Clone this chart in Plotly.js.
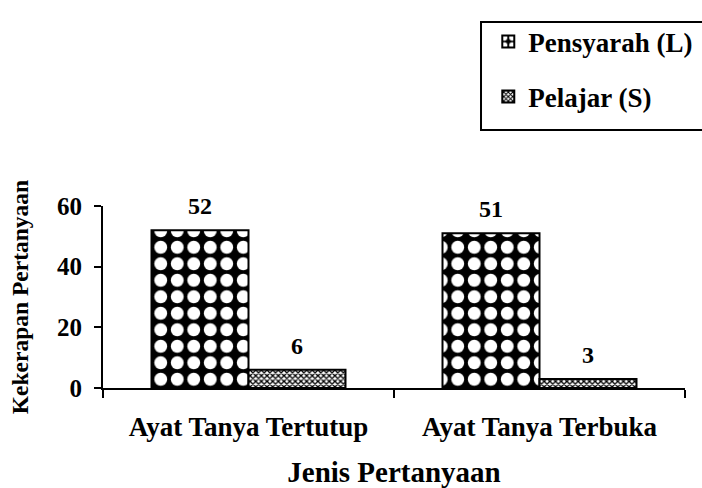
<!DOCTYPE html>
<html>
<head>
<meta charset="utf-8">
<script src="https://cdn.plot.ly/plotly-3.0.1.min.js"></script>
<style>html,body{margin:0;padding:0;background:#fff;}#chart{width:702px;height:488px;}</style>
</head>
<body>
<div id="chart"></div>
<script>
const categories = ["Ayat Tanya Tertutup", "Ayat Tanya Terbuka"];
const seriesNames = ["Pensyarah (L)", "Pelajar (S)"];
const pensyarah = [52, 51];
const pelajar = [6, 3];
const yTicks = [0, 20, 40, 60];

const FONT = 'Liberation Serif, Times New Roman, serif';
const BARGAP = 1/3;

const traces = [
  {
    type: 'bar', name: seriesNames[0], x: categories, y: pensyarah,
    legendgroup: 'a',
    marker: {color: '#000000', line: {color: '#000', width: 2},
      pattern: {shape: '.', fgcolor: '#ffffff', bgcolor: '#000000', fgopacity: 1, size: 16.5, solidity: 0.48, fillmode: 'replace'}},
    hoverinfo: 'x+y'
  },
  {
    type: 'bar', name: seriesNames[1], x: categories, y: pelajar,
    legendgroup: 'b',
    marker: {color: '#ffffff', line: {color: '#000', width: 2},
      pattern: {shape: 'x', fgcolor: '#000000', bgcolor: '#ffffff', fgopacity: 1, size: 4, solidity: 0.55, fillmode: 'replace'}},
    hoverinfo: 'x+y'
  }
];

// value labels placed above each bar via the axis scales
const annotations = [];
const off = (1 - BARGAP) / 4;
[pensyarah, pelajar].forEach((arr, s) => {
  arr.forEach((v, i) => {
    annotations.push({
      x: i + (s === 0 ? -off : off), y: v, xref: 'x', yref: 'y',
      text: String(v), showarrow: false, yshift: 24,
      font: {family: FONT, size: 24, color: '#000', weight: 'bold'}
    });
  });
});

const layout = {
  width: 702, height: 488,
  margin: {l: 103, r: 17, t: 206, b: 100, autoexpand: false},
  paper_bgcolor: '#fff', plot_bgcolor: '#fff',
  font: {family: FONT, color: '#000'},
  barmode: 'group', bargap: BARGAP, bargroupgap: 0,
  showlegend: true,
  legend: {
    x: 0.662, y: 2.036, xanchor: 'left', yanchor: 'top',
    bgcolor: 'rgba(0,0,0,0)', borderwidth: 0,
    font: {family: FONT, size: 27, color: '#000', weight: 'bold'},
    traceorder: 'grouped', tracegroupgap: 17, itemwidth: 30
  },
  xaxis: {
    type: 'category',
    showline: true, linecolor: '#000', linewidth: 2,
    ticks: 'outside', tickson: 'boundaries', ticklen: 8, tickwidth: 2, tickcolor: '#000',
    tickfont: {family: FONT, size: 27, color: '#000', weight: 'bold'},
    ticklabelstandoff: 14,
    showgrid: false, zeroline: false,
    title: {text: 'Jenis Pertanyaan', font: {family: FONT, size: 29, color: '#000', weight: 'bold'}, standoff: 23}
  },
  yaxis: {
    range: [0, 60], tickvals: yTicks,
    showline: true, linecolor: '#000', linewidth: 2,
    ticks: 'outside', ticklen: 7, tickwidth: 2, tickcolor: '#000',
    tickfont: {family: FONT, size: 25, color: '#000', weight: 'bold'},
    ticklabelstandoff: 7,
    showgrid: false, zeroline: false,
    title: {text: 'Kekerapan Pertanyaan', font: {family: FONT, size: 23.5, color: '#000', weight: 'bold'}, standoff: 22}
  },
  annotations: annotations,
  shapes: [{
    type: 'rect', xref: 'paper', yref: 'paper',
    x0: 0.6495, x1: 1.043, y0: 1.4176, y1: 2.011,
    line: {color: '#000', width: 2}, fillcolor: 'rgba(0,0,0,0)'
  }]
};

Plotly.newPlot('chart', traces, layout, {displayModeBar: false, staticPlot: true});
</script>
</body>
</html>
